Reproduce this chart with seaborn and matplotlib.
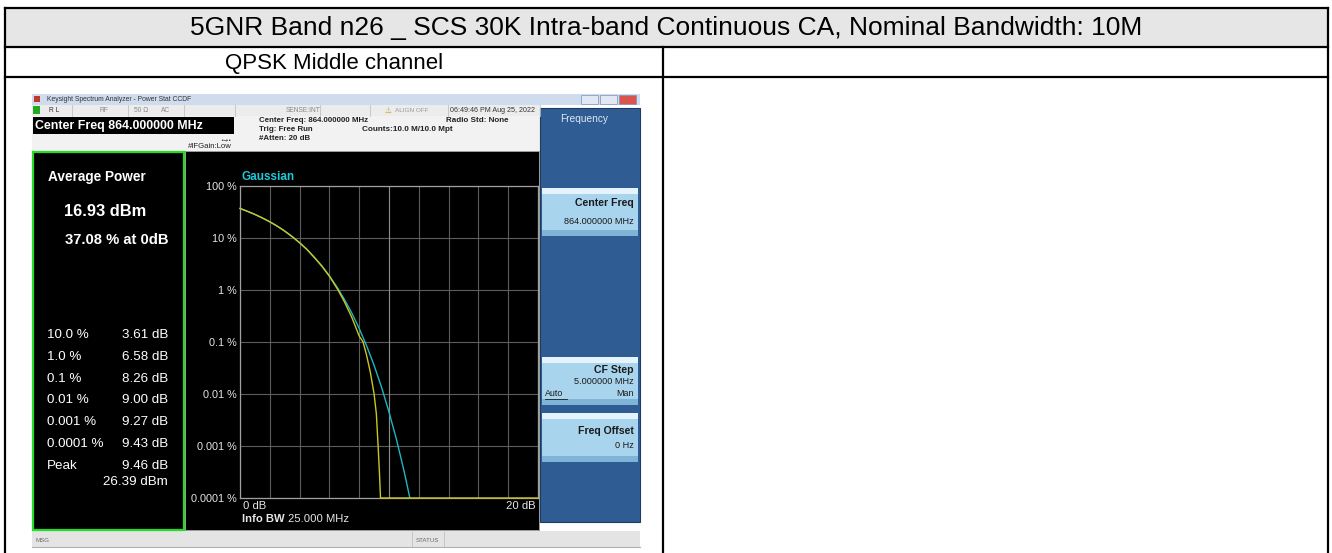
import numpy as np
import pandas as pd
import matplotlib
matplotlib.use('Agg')
import matplotlib.pyplot as plt
import seaborn as sns
from matplotlib.patches import Rectangle

# table texts
header_title = '5GNR Band n26 _ SCS 30K Intra-band Continuous CA, Nominal Bandwidth: 10M'
cell_title = 'QPSK Middle channel'

# CCDF readings: measured trace (yellow) and Gaussian reference (cyan), in dB and %
meas_db = [0, 0.5, 1, 1.5, 2, 2.5, 3, 3.61, 4, 4.5, 5, 5.5, 6, 6.58, 7, 7.5, 8, 8.26,
           8.5, 8.75, 9.0, 9.15, 9.27, 9.36, 9.43, 20]
meas_pct = [37.08, 32.6, 28.4, 24.3, 20.5, 16.9, 13.6, 10.0, 8.1, 6.0, 4.2, 2.85, 1.84, 1.0,
            0.6, 0.3, 0.13, 0.10, 0.055, 0.026, 0.01, 0.0042, 0.001, 0.0003, 0.0001, 0.0001]
gauss_db = [0, 0.5, 1, 1.5, 2, 2.5, 3, 3.5, 4, 4.5, 5, 5.5, 6, 6.5, 7, 7.5, 8, 8.5,
            9, 9.5, 10, 10.5, 11, 11.4]
gauss_pct = [36.8, 32.6, 28.4, 24.3, 20.5, 16.9, 13.6, 10.7, 8.1, 6.0, 4.2, 2.9, 1.87, 1.15,
             0.665, 0.362, 0.182, 0.084, 0.0355, 0.0135, 0.0045, 0.00134, 0.00034, 0.0001]

# marker table in the left panel
stat_labels = ['10.0 %', '1.0 %', '0.1 %', '0.01 %', '0.001 %', '0.0001 %', 'Peak']
stat_values = ['3.61 dB', '6.58 dB', '8.26 dB', '9.00 dB', '9.27 dB', '9.43 dB', '9.46 dB']
avg_power = '16.93 dBm'
avg_pct = '37.08 % at 0dB'
peak_dbm = '26.39 dBm'

y_ticks = [100, 10, 1, 0.1, 0.01, 0.001, 0.0001]
y_labels = ['100 %', '10 %', '1 %', '0.1 %', '0.01 %', '0.001 %', '0.0001 %']

W, H = 1332, 553
plt.rcParams['font.family'] = ['Liberation Sans', 'DejaVu Sans']
fig = plt.figure(figsize=(W / 100, H / 100), dpi=100)

# background axes in pixel coordinates
bg = fig.add_axes([0, 0, 1, 1])
bg.set_xlim(0, W)
bg.set_ylim(H, 0)
bg.axis('off')


def rect(x, y, w, h, fc, ec='none', lw=0, z=1):
    bg.add_patch(Rectangle((x, y), w, h, fc=fc, ec=ec, lw=lw, zorder=z))


def txt(x, y, s, size=6, color='black', ha='left', weight='normal', **kw):
    bg.text(x, y, s, fontsize=size, color=color, ha=ha, va='center', fontweight=weight, **kw)


# table
rect(5, 8, 1323, 39, '#e7e6e6')
lk = dict(color='black', lw=1.6, zorder=5)
bg.plot([5, 1328], [8, 8], **lk)
bg.plot([5, 1328], [47, 47], **lk)
bg.plot([5, 1328], [77, 77], **lk)
bg.plot([5, 5], [8, 553], **lk)
bg.plot([1328, 1328], [8, 553], **lk)
bg.plot([663, 663], [47, 553], **lk)
txt(666, 28, header_title, size=19, ha='center')
txt(334, 63, cell_title, size=16, ha='center')

# screenshot: window chrome
rect(32, 94, 608, 11, '#cfdcee')
rect(34, 96, 6, 6, '#c0392b', z=2)
txt(47, 99.5, 'Keysight Spectrum Analyzer - Power Stat CCDF', size=4.9, color='#333333')
for bx, c in [(581, '#dfe8f4'), (600, '#dfe8f4'), (619, '#d9534f')]:
    rect(bx, 95, 17, 9, c, ec='#7f93b0', lw=0.5, z=2)

rect(32, 105, 508, 11, '#ececec')
rect(33, 106, 7, 8, '#22aa22', z=2)
for sx in [72, 128, 184, 235, 320, 370, 448, 540]:
    bg.plot([sx, sx], [105, 116], color='#c0c0c0', lw=0.6, zorder=2)
txt(49, 110.5, 'R L', size=4.8, color='#333333')
txt(100, 110.5, 'RF', size=4.8, color='#888888')
txt(134, 110.5, '50 \u03a9', size=4.8, color='#888888')
txt(161, 110.5, 'AC', size=4.8, color='#888888')
txt(286, 110.5, 'SENSE:INT', size=4.8, color='#888888')
txt(385, 110.5, '\u26a0', size=5.5, color='#c8a000', family='DejaVu Sans')
txt(395, 110.5, 'ALIGN OFF', size=4.6, color='#999999')
txt(450, 110.5, '06:49:46 PM Aug 25, 2022', size=5.1, color='#333333')

rect(32, 116, 508, 35, '#f2f2f2')
rect(33, 117, 201, 17, 'black', z=2)
txt(35, 125.5, 'Center Freq 864.000000 MHz', size=8.9, color='white', weight='bold')
txt(259, 121, 'Center Freq: 864.000000 MHz', size=5.7, color='#222222', weight='bold')
txt(259, 129.5, 'Trig: Free Run', size=5.7, color='#222222', weight='bold')
txt(259, 138, '#Atten: 20 dB', size=5.7, color='#222222', weight='bold')
txt(362, 129.5, 'Counts:10.0 M/10.0 Mpt', size=5.9, color='#222222', weight='bold')
txt(446, 121, 'Radio Std: None', size=5.8, color='#222222', weight='bold')
txt(188, 146, '#IFGain:Low', size=5.6, color='#222222')
txt(220, 140, '\u2022\u2192\u2022', size=4, color='#333333', family='DejaVu Sans')

# right soft-key panel
rect(540, 108, 100, 414, '#2f5d93', ec='#1d3b60', lw=0.8)
txt(584, 119, 'Frequency', size=7.3, color='#dce8f5', ha='center')
keys = [(188, 48, 203, 221, ['Center Freq', '864.000000 MHz']),
        (357, 48, 370, 381, ['CF Step', '5.000000 MHz']),
        (413, 49, 431, 445, ['Freq Offset', '0 Hz'])]
for ky, kh, y1, y2, lines in keys:
    rect(542, ky, 96, kh, '#a9d4ee', z=2)
    rect(542, ky, 96, 6, '#e4f3fc', z=3)
    rect(542, ky + kh - 6, 96, 6, '#7fb4d6', z=3)
    txt(634, y1, lines[0], size=7.6, color='#1a1a1a', ha='right', weight='bold', zorder=4)
    txt(634, y2, lines[1], size=6.6, color='#1a1a1a', ha='right', zorder=4)
txt(545, 394, 'Auto', size=6.4, color='#1a1a1a', zorder=4)
bg.plot([545, 567], [398.5, 398.5], color='#1a1a1a', lw=0.6, zorder=4)
txt(634, 394, 'Man', size=6.4, color='#1a1a1a', ha='right', zorder=4)

# black display area
rect(32, 151, 508, 380, '#9a9a9a')
rect(33, 152, 151, 378, 'black', ec='#22dd22', lw=1.6, z=2)
rect(186, 152, 353, 378, 'black', z=2)

# left panel texts
txt(48, 177, 'Average Power', size=9.8, color='white', weight='bold', zorder=4)
txt(64, 212, avg_power, size=11.8, color='white', weight='bold', zorder=4)
txt(65, 240, avg_pct, size=10.6, color='white', weight='bold', zorder=4)
for i, (lab, val) in enumerate(zip(stat_labels, stat_values)):
    yy = 335 + i * 21.8
    txt(47, yy, lab, size=9.6, color='white', zorder=4)
    txt(168, yy, val, size=9.6, color='white', ha='right', zorder=4)
txt(168, 482, peak_dbm, size=9.6, color='white', ha='right', zorder=4)

# bottom message bar
rect(32, 531, 608, 17, '#e4e4e4')
bg.plot([32, 640], [547, 547], color='#b0b0b0', lw=0.8)
bg.plot([412, 412], [532, 546], color='#c0c0c0', lw=0.6)
bg.plot([444, 444], [532, 546], color='#c0c0c0', lw=0.6)
txt(35, 540, 'MSG', size=4.4, color='#666666')
txt(416, 540, 'STATUS', size=4.4, color='#666666')

# CCDF plot
ax = fig.add_axes([240 / W, 1 - 498 / H, (538 - 240) / W, (498 - 186) / H])
ax.set_facecolor('black')
ax.set_yscale('log')
ax.set_xlim(0, 20)
ax.set_ylim(1e-4, 100)
ax.set_xticks(np.arange(0, 21, 2))
ax.set_xticklabels([])
ax.set_yticks(y_ticks)
ax.set_yticklabels(y_labels)
ax.yaxis.set_minor_locator(matplotlib.ticker.NullLocator())
ax.tick_params(length=0, labelsize=7.8, labelcolor='#e6e6e6', pad=2)
ax.grid(True, color='#5c5c5c', lw=0.8)
ax.axvline(10, color='#8a8a8a', lw=0.8)
for s in ax.spines.values():
    s.set_color('#a0a0a0')
    s.set_linewidth(0.9)

gauss = pd.DataFrame({'dB': gauss_db, 'pct': gauss_pct})
meas = pd.DataFrame({'dB': meas_db, 'pct': meas_pct})
sns.lineplot(data=gauss, x='dB', y='pct', ax=ax, color='#1fb5c4', lw=1.0,
             estimator=None, sort=False, clip_on=False, zorder=3)
sns.lineplot(data=meas, x='dB', y='pct', ax=ax, color='#c9c81e', lw=1.0,
             estimator=None, sort=False, clip_on=False, zorder=4)
ax.set_xlabel('')
ax.set_ylabel('')

txt(242, 177, 'Gaussian', size=8.5, color='#1fc8d8', weight='bold', zorder=4)
txt(243, 506, '0 dB', size=8.1, color='#e6e6e6', zorder=4)
txt(536, 506, '20 dB', size=8.1, color='#e6e6e6', ha='right', zorder=4)
txt(242, 519, 'Info BW', size=8.1, color='#e6e6e6', weight='bold', zorder=4)
txt(288, 519, '25.000 MHz', size=8.1, color='#e6e6e6', zorder=4)

fig.savefig('out.png', dpi=100)
